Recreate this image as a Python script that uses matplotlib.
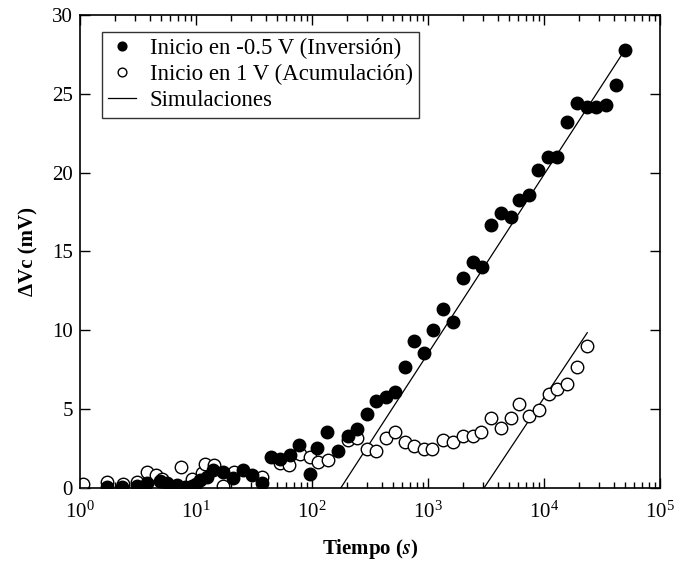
import numpy as np
import matplotlib
matplotlib.use("Agg")
import matplotlib.pyplot as plt

plt.rcParams['font.family'] = ['Liberation Serif', 'DejaVu Serif']
plt.rcParams['mathtext.fontset'] = 'stix'

# Inicio en -0.5 V (Inversion) - filled circles
t_inv = [1.70, 2.29, 3.08, 3.8, 4.9, 5.58, 6.81, 8.03, 9.18, 10.1, 10.8, 12.4, 14.1,
         17.2, 21.0, 25.6, 30.2, 36.8, 44, 53, 64.6, 77.6, 96.2, 111, 134, 169, 206,
         243, 296, 356, 435, 520, 634, 762, 924, 1096, 1340, 1633, 1990, 2430, 2900,
         3470, 4240, 5160, 6090, 7470, 8930, 10900, 13000, 15700, 19100, 23300,
         28100, 34200, 41800, 49900]
v_inv = [0.08, 0.04, 0.13, 0.34, 0.46, 0.34, 0.19, 0.04, 0.13, 0.25, 0.5, 0.68, 1.14,
         1.03, 0.61, 1.14, 0.82, 0.3, 1.95, 1.82, 2.09, 2.73, 0.89, 2.52, 3.57, 2.37, 3.3,
         3.75, 4.69, 5.54, 5.75, 6.1, 7.7, 9.32, 8.58, 10.02, 11.33, 10.55, 13.3, 14.35, 14.0,
         16.68, 17.42, 17.2, 18.26, 18.58, 20.16, 21.0, 21.0, 23.23, 24.4, 24.14,
         24.14, 24.29, 25.55, 27.77]

# Inicio en 1 V (Acumulacion) - open circles
t_acu = [1.07, 1.72, 2.36, 3.12, 3.8, 4.5, 5.1, 6.59, 7.38, 8.3, 9.18, 11.2, 12.0, 14.3,
         17.2, 21.3, 36.8, 53, 63.7, 79, 96, 113, 138, 206, 246, 296, 356, 435, 520,
         630, 762, 924, 1090, 1340, 1630, 1990, 2430, 2880, 3470, 4230, 5160, 6130,
         7470, 9110, 11100, 13000, 15900, 19400, 23600]
v_acu = [0.25, 0.4, 0.25, 0.36, 1.03, 0.8, 0.6, 0.08, 1.33, 0.08, 0.6, 0.95, 1.55, 1.46,
         0.1, 1.0, 0.72, 1.6, 1.46, 2.16, 1.95, 1.65, 1.8, 3.04, 3.19, 2.45, 2.37, 3.2, 3.57,
         2.92, 2.68, 2.45, 2.45, 3.02, 2.92, 3.3, 3.3, 3.55, 4.46, 3.83, 4.46, 5.33,
         4.57, 4.95, 5.94, 6.28, 6.57, 7.65, 9.0]

# Simulaciones
sim1_t = [177, 49900]
sim1_v = [0.0, 27.8]
sim2_t = [3040, 23600]
sim2_v = [0.0, 9.85]

fig = plt.figure(figsize=(6.93, 5.69), dpi=100)
ax = fig.add_axes([0.1154, 0.1424, 0.8370, 0.8312])

ax.plot(t_inv, v_inv, 'o', color='black', markersize=9, markeredgewidth=1,
        label='Inicio en -0.5 V (Inversión)', zorder=3)
ax.plot(t_acu, v_acu, 'o', markerfacecolor='white', markeredgecolor='black',
        markersize=9, markeredgewidth=1, label='Inicio en 1 V (Acumulación)', zorder=2)
ax.plot(sim1_t, sim1_v, '-', color='black', linewidth=0.9, label='Simulaciones', zorder=1)
ax.plot(sim2_t, sim2_v, '-', color='black', linewidth=0.9, zorder=1)

ax.set_xscale('log')
ax.set_xlim(1, 1e5)
ax.set_ylim(0, 30)
ax.set_yticks([0, 5, 10, 15, 20, 25, 30])

ax.tick_params(which='both', direction='in', top=True, right=True, labelsize=15)
ax.tick_params(which='major', length=7, width=1)
ax.tick_params(which='minor', length=4, width=1)
ax.tick_params(axis='x', pad=10)
ax.tick_params(axis='y', pad=5)
for s in ax.spines.values():
    s.set_linewidth(1.2)

ax.set_xlabel(r'Tiempo ($\mathbfit{s}$)', fontsize=15, fontweight='bold', labelpad=10)
ax.set_ylabel('ΔVc (mV)', fontsize=15, fontweight='bold', labelpad=10)

leg = ax.legend(loc='upper left', bbox_to_anchor=(0.038, 0.965), fontsize=16.5,
                frameon=True, fancybox=False, edgecolor='black', handlelength=1.2,
                handletextpad=0.6, borderpad=0.28, labelspacing=0.22, borderaxespad=0,
                markerscale=0.7)
leg.get_frame().set_linewidth(1.0)

fig.savefig('out.png', dpi=100)
